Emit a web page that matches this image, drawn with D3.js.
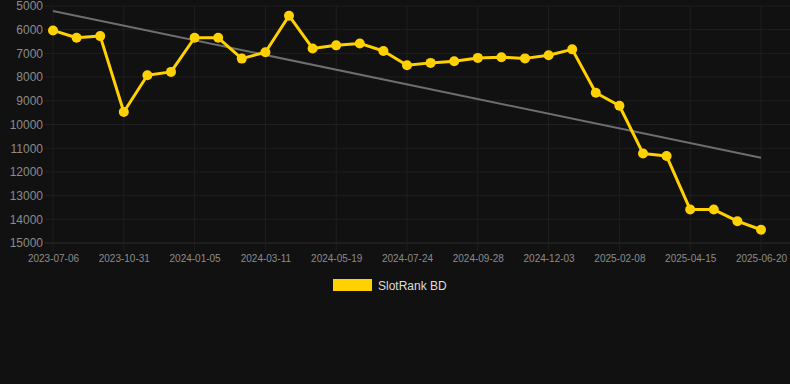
<!DOCTYPE html>
<html>
<head>
<meta charset="utf-8">
<script src="https://cdn.jsdelivr.net/npm/d3@7/dist/d3.min.js"></script>
<style>
html,body{margin:0;padding:0;background:#111111;}
svg{display:block;}
text{font-family:"Liberation Sans",Arial,Helvetica,sans-serif;}
</style>
</head>
<body>
<svg id="chart" width="790" height="384"></svg>
<script>
const dates = ["2023-07-06","2023-08-14","2023-09-22","2023-10-31","2023-11-22","2023-12-14",
"2024-01-05","2024-01-27","2024-02-18","2024-03-11","2024-04-03","2024-04-26",
"2024-05-19","2024-06-10","2024-07-02","2024-07-24","2024-08-15","2024-09-06",
"2024-09-28","2024-10-20","2024-11-11","2024-12-03","2024-12-25","2025-01-17",
"2025-02-08","2025-03-02","2025-03-24","2025-04-15","2025-05-07","2025-05-29","2025-06-20"];
const ranks = [6030,6340,6270,9470,7920,7780,6340,6340,7220,6950,5410,6790,
6660,6580,6900,7500,7400,7330,7190,7160,7210,7080,6830,8660,
9210,11220,11330,13590,13590,14080,14440];
const trendValues = [5210, 11400];
const yTicks = [5000,6000,7000,8000,9000,10000,11000,12000,13000,14000,15000];
const seriesName = "SlotRank BD";

(function(){
const svg = d3.select("#chart");
const pl = 53, pr = 761, pt = 6, pb = 243;
const x = d3.scalePoint().domain(dates).range([pl, pr]);
const y = d3.scaleLinear().domain([5000, 15000]).range([pt, pb]);
const xTickVals = dates.filter((d,i) => i % 3 === 0);

const grid = svg.append("g");
grid.selectAll("line.h").data(yTicks).enter().append("line")
  .attr("x1", pl - 8).attr("x2", 790)
  .attr("y1", d => y(d)).attr("y2", d => y(d))
  .attr("stroke", d => d === 15000 ? "#2c2c2c" : "#1f1f1f").attr("stroke-width", 1);
grid.selectAll("line.v").data(xTickVals).enter().append("line")
  .attr("x1", d => x(d)).attr("x2", d => x(d))
  .attr("y1", pt).attr("y2", pb + 8)
  .attr("stroke", "#1f1f1f").attr("stroke-width", 1);

const yAxis = svg.append("g").attr("transform", `translate(${pl},0)`)
  .call(d3.axisLeft(y).tickValues(yTicks).tickSize(0).tickPadding(10).tickFormat(d3.format("d")));
yAxis.select(".domain").remove();
yAxis.selectAll("text").attr("fill", "#8c8c8c").style("font-size", "12px");

const xAxis = svg.append("g").attr("transform", `translate(0,${pb})`)
  .call(d3.axisBottom(x).tickValues(xTickVals).tickSize(0).tickPadding(12));
xAxis.select(".domain").remove();
xAxis.selectAll("text").attr("fill", "#8c8c8c").style("font-size", "10px");

svg.append("line")
  .attr("x1", x(dates[0])).attr("y1", y(trendValues[0]))
  .attr("x2", x(dates[dates.length-1])).attr("y2", y(trendValues[1]))
  .attr("stroke", "#6e6e6e").attr("stroke-width", 2);

const line = d3.line().x((d,i) => x(dates[i])).y(d => y(d));
svg.append("path").datum(ranks)
  .attr("d", line).attr("fill", "none")
  .attr("stroke", "#FFD100").attr("stroke-width", 3).attr("stroke-linejoin", "round");
svg.selectAll("circle.pt").data(ranks).enter().append("circle")
  .attr("cx", (d,i) => x(dates[i])).attr("cy", d => y(d))
  .attr("r", 5).attr("fill", "#FFD100");

const lg = svg.append("g");
lg.append("rect").attr("x", 333).attr("y", 279).attr("width", 39).attr("height", 12).attr("fill", "#FFD100");
lg.append("text").attr("x", 378).attr("y", 289.5).text(seriesName)
  .attr("fill", "#dddddd").style("font-size", "12px");
})();
</script>
</body>
</html>
